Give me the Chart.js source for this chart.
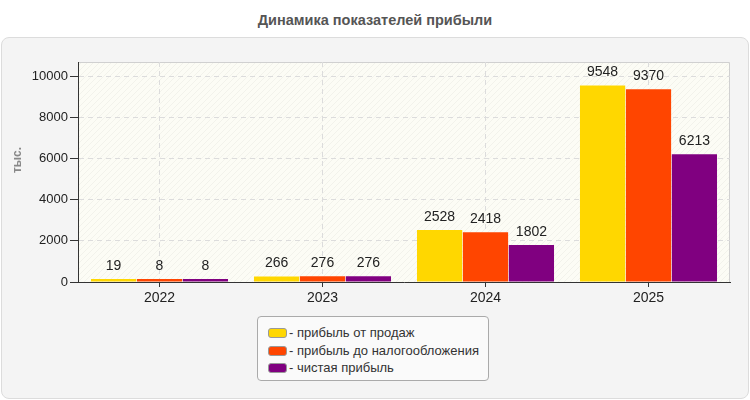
<!DOCTYPE html>
<html>
<head>
<meta charset="utf-8">
<script src="https://cdn.jsdelivr.net/npm/chart.js@4"></script>
<style>
  body { margin: 0; background: #fff; font-family: "Liberation Sans", Arial, sans-serif; }
  #wrap { position: relative; width: 750px; height: 400px; overflow: hidden; }
  #title { position: absolute; left: 0; top: 12px; width: 750px; text-align: center;
           font-weight: bold; font-size: 14.5px; color: #555; }
  #panel { position: absolute; left: 1px; top: 37px; width: 746px; height: 360px;
           background: #f4f4f4; border: 1px solid #dcdcdc; border-radius: 8px; }
  #chart { position: absolute; left: 0; top: 0; }
  #legend { position: absolute; left: 257px; top: 316px; width: 232px; height: 65px;
            background: #fafafa; border: 1px solid #aaa; border-radius: 4px; box-sizing: border-box;
            padding-top: 7px; font-size: 13px; color: #333; }
  .item { height: 17.5px; line-height: 17px; padding-left: 10px; white-space: nowrap; }
  .sw { display: inline-block; width: 17px; height: 8px; border: 1px solid #999; border-radius: 3px;
        vertical-align: -1px; margin-right: 2px; }
</style>
</head>
<body>
<div id="wrap">
  <div id="title">Динамика показателей прибыли</div>
  <div id="panel"></div>
  <canvas id="chart" width="750" height="400"></canvas>
  <div id="legend"></div>
</div>
<script>
const years = ['2022', '2023', '2024', '2025'];
const salesProfit = [19, 266, 2528, 9548];
const preTaxProfit = [8, 276, 2418, 9370];
const netProfit = [8, 276, 1802, 6213];
const seriesNames = ['прибыль от продаж', 'прибыль до налогообложения', 'чистая прибыль'];
const seriesColors = ['#ffd700', '#ff4500', '#800080'];
const yTicks = [0, 2000, 4000, 6000, 8000, 10000];

// faint diagonal hatching for the plot background
const pat = document.createElement('canvas');
pat.width = 6; pat.height = 6;
const pctx = pat.getContext('2d');
pctx.fillStyle = '#fcfcf5';
pctx.fillRect(0, 0, 6, 6);
pctx.strokeStyle = 'rgba(0,0,0,0.04)';
pctx.lineWidth = 1;
pctx.beginPath();
pctx.moveTo(0, 6); pctx.lineTo(6, 0);
pctx.stroke();

const plotBg = {
  id: 'plotBg',
  beforeDraw(chart) {
    const { ctx, chartArea: a } = chart;
    ctx.save();
    ctx.fillStyle = ctx.createPattern(pat, 'repeat');
    ctx.fillRect(a.left, a.top, a.right - a.left, a.bottom - a.top);
    ctx.strokeStyle = '#d0d0d0';
    ctx.lineWidth = 1;
    ctx.beginPath();
    ctx.moveTo(a.left, a.top + 0.5);
    ctx.lineTo(a.right - 0.5, a.top + 0.5);
    ctx.lineTo(a.right - 0.5, a.bottom);
    ctx.stroke();
    // y axis title
    ctx.translate(18, 160);
    ctx.rotate(-Math.PI / 2);
    ctx.fillStyle = '#888';
    ctx.font = 'bold 12px "Liberation Sans", Arial, sans-serif';
    ctx.textAlign = 'center';
    ctx.textBaseline = 'middle';
    ctx.fillText('тыс.', 0, 0);
    ctx.restore();
  }
};

const barLabels = {
  id: 'barLabels',
  afterDatasetsDraw(chart) {
    const { ctx } = chart;
    ctx.save();
    ctx.font = '14px "Liberation Sans", Arial, sans-serif';
    ctx.fillStyle = '#222';
    ctx.textAlign = 'center';
    ctx.textBaseline = 'middle';
    chart.data.datasets.forEach((ds, i) => {
      chart.getDatasetMeta(i).data.forEach((bar, j) => {
        ctx.fillText(String(ds.data[j]), bar.x, bar.y - 13);
      });
    });
    ctx.restore();
  }
};

const datasets = [salesProfit, preTaxProfit, netProfit].map((d, i) => ({
  label: seriesNames[i],
  data: d,
  backgroundColor: seriesColors[i],
  borderWidth: 0,
  minBarLength: 3,
  barPercentage: 0.985,
  categoryPercentage: 0.845
}));

new Chart(document.getElementById('chart'), {
  type: 'bar',
  data: { labels: years, datasets },
  options: {
    responsive: false,
    animation: false,
    layout: { padding: { left: 0, top: 62, right: 20, bottom: 88 } },
    plugins: { legend: { display: false }, tooltip: { enabled: false } },
    scales: {
      x: {
        afterFit(s) { s.height = 30; },
        grid: { offset: false, color: '#dcdcdc', tickColor: '#333', tickLength: 5 },
        border: { color: '#333', dash: [5, 4] },
        ticks: { color: '#222', padding: 3, font: { size: 14, family: '"Liberation Sans", Arial, sans-serif' } }
      },
      y: {
        min: 0,
        max: 10690,
        afterFit(s) { s.width = 78; },
        afterBuildTicks(s) { s.ticks = yTicks.map(v => ({ value: v })); },
        grid: { color: '#dcdcdc', tickColor: '#333', tickLength: 8 },
        border: { color: '#333', dash: [5, 4] },
        ticks: {
          color: '#222', padding: 2,
          font: { size: 13, family: '"Liberation Sans", Arial, sans-serif' },
          callback: v => String(v)
        }
      }
    }
  },
  plugins: [plotBg, barLabels]
});

const legend = document.getElementById('legend');
seriesNames.forEach((name, i) => {
  const row = document.createElement('div');
  row.className = 'item';
  const sw = document.createElement('span');
  sw.className = 'sw';
  sw.style.background = seriesColors[i];
  row.appendChild(sw);
  row.appendChild(document.createTextNode('- ' + name));
  legend.appendChild(row);
});
</script>
</body>
</html>
